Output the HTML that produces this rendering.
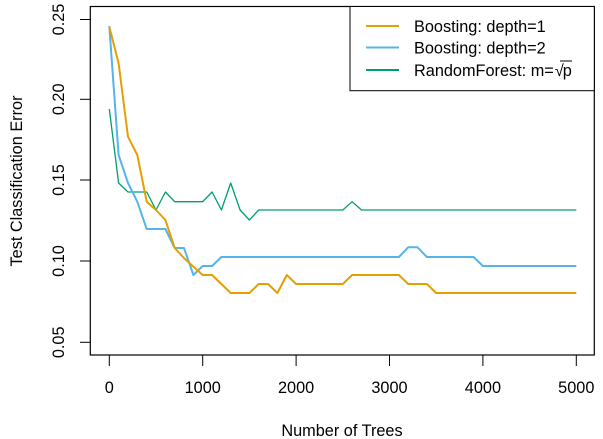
<!DOCTYPE html>
<html><head><meta charset="utf-8"><style>body{margin:0;background:#fff}svg{display:block}</style></head>
<body>
<svg width="603" height="439" xmlns="http://www.w3.org/2000/svg" font-family="Liberation Sans, Arial, sans-serif" font-size="16.3" fill="#000">
<rect x="0" y="0" width="603" height="439" fill="#fff"/>
<g id="lines" fill="none" stroke-linejoin="round">
<polyline stroke="#009E73" stroke-width="1.3" points="109.3,109 118.6,183 128,192 137.3,192 146.7,192 156,210 165.4,192 174.7,201.7 184,201.7 193.4,201.7 202.7,201.7 212.1,192 221.4,210 230.7,183 240.1,210 249.4,220 258.7,210 342.8,210 352.1,201.7 361.5,210 576.3,210"/>
<polyline stroke="#56B4E9" stroke-width="2" points="109.3,26 118.6,155 128,183 137.3,201.7 146.7,229 156,229 165.4,229 174.7,248 184,248 193.4,275 202.7,266 212.1,266 221.4,257 398.9,257 408.2,247.3 417.5,247.3 426.9,257 473.6,257 482.9,266 576.3,266"/>
<polyline stroke="#E69F00" stroke-width="2" points="109.3,26.7 118.6,63.3 128,136.7 137.3,155 146.7,201.7 156,210 165.4,220 174.7,248 184,258 193.4,266.7 202.7,275 212.1,275 221.4,284 230.7,293 249.4,293 258.7,284 268.1,284 277.4,293 286.8,275 296.1,284 342.8,284 352.1,275 398.9,275 408.2,284 426.9,284 436.2,293 576.3,293"/>
</g>
<rect x="90.3" y="6.5" width="504" height="348.5" fill="none" stroke="#000" stroke-width="1.2"/>
<g stroke="#000" stroke-width="1">
<line x1="80" y1="19.5" x2="90.3" y2="19.5"/><line x1="80" y1="99.3" x2="90.3" y2="99.3"/><line x1="80" y1="180" x2="90.3" y2="180"/><line x1="80" y1="261" x2="90.3" y2="261"/><line x1="80" y1="342.3" x2="90.3" y2="342.3"/>
<line x1="109.3" y1="355" x2="109.3" y2="366"/><line x1="202.7" y1="355" x2="202.7" y2="366"/><line x1="296.1" y1="355" x2="296.1" y2="366"/><line x1="389.5" y1="355" x2="389.5" y2="366"/><line x1="482.9" y1="355" x2="482.9" y2="366"/><line x1="576.3" y1="355" x2="576.3" y2="366"/>
</g>
<g text-anchor="middle">
<text x="109.3" y="393">0</text><text x="202.7" y="393">1000</text><text x="296.1" y="393">2000</text><text x="389.5" y="393">3000</text><text x="482.9" y="393">4000</text><text x="576.3" y="393">5000</text>
<text x="342" y="436">Number of Trees</text>
<text transform="translate(64,19.5) rotate(-90)">0.25</text>
<text transform="translate(64,99.3) rotate(-90)">0.20</text>
<text transform="translate(64,180) rotate(-90)">0.15</text>
<text transform="translate(64,261) rotate(-90)">0.10</text>
<text transform="translate(64,342.3) rotate(-90)">0.05</text>
<text transform="translate(22,181) rotate(-90)">Test Classification Error</text>
</g>
<rect x="350" y="6.5" width="244.3" height="84.2" fill="#fff" stroke="#000" stroke-width="1"/>
<line x1="366" y1="26" x2="399" y2="26" stroke="#E69F00" stroke-width="2"/>
<line x1="366" y1="47.5" x2="399" y2="47.5" stroke="#56B4E9" stroke-width="2"/>
<line x1="366" y1="70" x2="399" y2="70" stroke="#009E73" stroke-width="2"/>
<text x="414" y="32">Boosting: depth=1</text>
<text x="414" y="53.5">Boosting: depth=2</text>
<text x="414" y="76">RandomForest: m=<tspan dx="1">√</tspan><tspan dx="-1">p</tspan></text>
<line x1="560" y1="61" x2="572" y2="61" stroke="#000" stroke-width="1"/>
</svg>
</body></html>
